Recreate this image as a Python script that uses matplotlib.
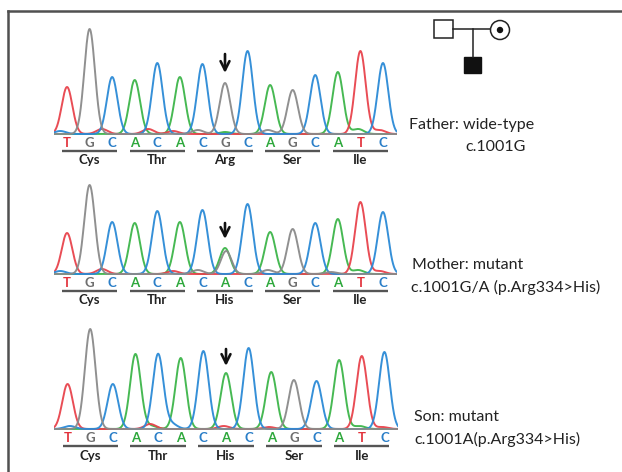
import numpy as np
import matplotlib
matplotlib.use('Agg')
import matplotlib.pyplot as plt
from matplotlib.patches import Rectangle, Circle

plt.rcParams['font.family'] = ['Lato', 'DejaVu Sans']

# sequence read in every trace
bases = ['T', 'G', 'C', 'A', 'C', 'A', 'C', 'G', 'C', 'A', 'G', 'C', 'A', 'T', 'C']
mother_bases = ['T', 'G', 'C', 'A', 'C', 'A', 'C', 'A', 'C', 'A', 'G', 'C', 'A', 'T', 'C']
codons_wt = ['Cys', 'Thr', 'Arg', 'Ser', 'Ile']
codons_mut = ['Cys', 'Thr', 'His', 'Ser', 'Ile']

# main peak heights (signal units), one per base
father_heights = [47, 105, 57, 54, 71, 57, 70, 51, 83, 49, 44, 59, 62, 83, 71]
mother_heights = [41, 89, 52, 51, 63, 52, 64, 26, 70, 42, 45, 51, 55, 72, 62]
mother_second = 23   # G peak under the A at position 7 (heterozygous)
son_heights = [45, 100, 45, 75, 75, 71, 78, 56, 81, 57, 49, 48, 69, 73, 77]

# small background bumps: (position, base channel, height)
father_noise = [(-0.3, 'C', 3), (1.55, 'T', 5), (3.6, 'T', 5), (4.7, 'T', 3),
                (5.8, 'G', 4), (7.0, 'A', 2), (8.9, 'G', 4), (12.9, 'A', 5), (13.85, 'T', 4)]
mother_noise = [(-0.3, 'C', 3), (1.55, 'T', 5), (4.7, 'T', 3), (5.8, 'G', 4),
                (8.9, 'G', 4), (11.7, 'G', 2), (12.9, 'A', 4), (13.85, 'T', 3)]
son_noise = [(0.1, 'C', 3), (3.65, 'T', 5), (3.7, 'A', 3), (4.6, 'C', 5),
             (6.9, 'T', 3), (8.9, 'T', 2), (12.9, 'A', 3), (13.9, 'T', 2)]

colors = {'T': '#e8434c', 'G': '#8a8a8a', 'C': '#2b8ad6', 'A': '#3db54a'}
label_colors = {'T': '#e2333c', 'G': '#6f6f6f', 'C': '#2b7fc8', 'A': '#2ea83c'}

W, H = 622, 472
fig = plt.figure(figsize=(W / 100, H / 100), dpi=100)


def px_axes(left, top, right, bottom):
    return fig.add_axes([left / W, 1 - bottom / H, (right - left) / W, (bottom - top) / H])


def draw_trace(ax, seq, heights, noise, codons, arrow_y, extra=None):
    x = np.linspace(-0.6, 14.6, 1500)
    sigma = 0.235
    traces = {b: np.zeros_like(x) for b in 'TGCA'}
    for i, (b, h) in enumerate(zip(seq, heights)):
        traces[b] += h * np.exp(-0.5 * ((x - i) / sigma) ** 2)
    if extra is not None:
        pos, b, h = extra
        traces[b] += h * np.exp(-0.5 * ((x - pos) / sigma) ** 2)
    for pos, b, h in noise:
        traces[b] += h * np.exp(-0.5 * ((x - pos) / 0.25) ** 2)
    for b in ['A', 'T', 'C', 'G']:
        ax.plot(x, traces[b], color=colors[b], lw=1.4, alpha=0.95)
    for i, b in enumerate(seq):
        ax.text(i, -9, b, color=label_colors[b], fontsize=9.5, fontweight='bold',
                ha='center', va='center')
    for k, name in enumerate(codons):
        ax.plot([3 * k - 0.22, 3 * k + 2.22], [-17, -17], color='#555555', lw=1.7,
                solid_capstyle='butt')
        ax.text(3 * k + 1, -26.5, name, color='#222222', fontsize=9.5, fontweight='bold',
                ha='center', va='center')
    ax.annotate('', xy=(7, arrow_y[1]), xytext=(7, arrow_y[0]),
                arrowprops=dict(arrowstyle='->', color='#111111', lw=1.9,
                                mutation_scale=16, shrinkA=0, shrinkB=0))
    ax.set_xlim(-0.6, 14.6)
    ax.set_ylim(-35, 110)
    ax.axis('off')


ax1 = px_axes(53.5, 24, 396.5, 169)
draw_trace(ax1, bases, father_heights, father_noise, codons_wt, (80, 61))

ax2 = px_axes(53.5, 164, 396.5, 309)
draw_trace(ax2, mother_bases, mother_heights, mother_noise, codons_mut, (51, 35),
           extra=(7.05, 'G', mother_second))

ax3 = px_axes(54, 319, 398, 464)
draw_trace(ax3, mother_bases, son_heights, son_noise, codons_mut, (80, 63))

# overlay in pixel coordinates for frame, pedigree and captions
ov = fig.add_axes([0, 0, 1, 1], zorder=-1)
ov.set_xlim(0, W)
ov.set_ylim(H, 0)
ov.axis('off')

ov.plot([8, 8], [11, H], color='#505050', lw=1.8)
ov.plot([8, W], [11, 11], color='#505050', lw=1.8)

# pedigree
ov.add_patch(Rectangle((434, 20), 19, 18, fill=False, ec='#222222', lw=1.1))
ov.plot([453, 490], [29, 29], color='#222222', lw=1.1)
ov.plot([473, 473], [29, 57], color='#222222', lw=1.1)
ov.add_patch(Circle((500, 30), 9.5, fill=False, ec='#222222', lw=1.1))
ov.add_patch(Circle((500, 30), 2.5, color='#111111'))
ov.add_patch(Rectangle((464, 57), 17, 16, color='#111111'))

txt = dict(fontsize=11.5, color='#222222', va='center', ha='left')
ov.text(409, 125, 'Father: wide-type', **txt)
ov.text(465, 147, 'c.1001G', **txt)
ov.text(412, 265, 'Mother: mutant', **txt)
ov.text(411, 287, 'c.1001G/A (p.Arg334>His)', **txt)
ov.text(414, 417, 'Son: mutant', **txt)
ov.text(414, 439, 'c.1001A(p.Arg334>His)', **txt)

fig.savefig('out.png', dpi=100)
